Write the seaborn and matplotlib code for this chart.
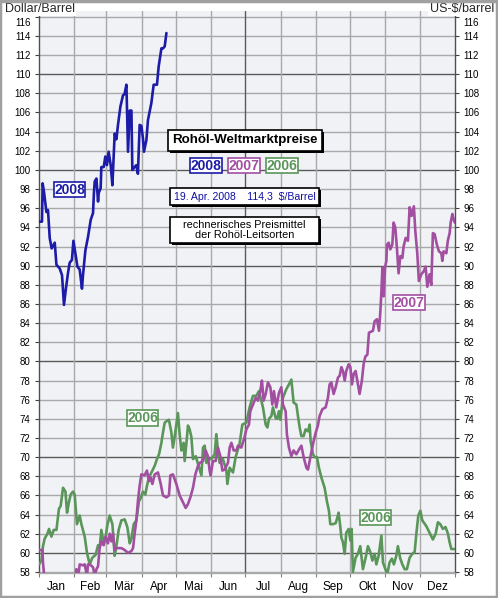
import matplotlib
matplotlib.use("Agg")
import numpy as np
import pandas as pd
import seaborn as sns
import matplotlib.pyplot as plt
from matplotlib.patches import Rectangle
from matplotlib.ticker import FixedLocator, NullFormatter
from matplotlib.transforms import ScaledTranslation

# ---------------- data ----------------
months = ["Jan", "Feb", "Mär", "Apr", "Mai", "Jun", "Jul", "Aug", "Sep", "Okt", "Nov", "Dez"]
month_starts = [0, 31, 59, 90, 120, 151, 181, 212, 243, 273, 304, 334, 365]

day_2008 = [0, 2.6, 3.2, 4.5, 6.5, 7.9, 9.4, 11.1, 13.8, 15.3, 18.2, 20.2, 21.9, 23.4, 25.4, 26.9,
            28.9, 30.2, 31.9, 33.7, 35.7, 37.7, 38.6, 40.7, 43.0, 45.4, 47.4, 48.2, 48.9, 50.4,
            51.8, 52.4, 54.1, 54.7, 56.8, 58.2, 59.6, 61.1, 62.9, 64.4, 66.4, 67.9, 69.3, 71.4,
            73.7, 75.0, 76.7, 78.1, 79.6, 81.1, 81.9, 83.9, 85.4, 86.8, 88.3, 89.8, 91.2, 92.1,
            94.2, 95.6, 98.6, 100.6, 103.5, 105.0, 107.4, 108.8, 110.3, 111.8]
price_2008 = [94.6, 94.6, 98.6, 97.6, 95.6, 95.8, 92.9, 91.8, 92.4, 90.1, 89.7, 89.0, 85.9, 87.4, 89.2, 90.3,
              90.6, 92.6, 91.3, 89.9, 89.6, 87.6, 89.0, 91.6, 93.0, 94.8, 95.5, 97.6, 98.8, 99.1,
              96.7, 97.6, 98.1, 100.3, 100.3, 101.4, 100.5, 101.9, 100.5, 98.4, 103.8, 103.2, 104.7, 106.6,
              107.8, 107.9, 108.9, 101.9, 106.2, 106.2, 100.0, 100.3, 100.5, 99.6, 104.7, 104.6, 103.3, 101.9,
              103.1, 105.2, 107.0, 108.9, 108.9, 110.8, 112.7, 112.7, 112.9, 114.3]

day_2007 = [0, 3.0, 3.5, 5.0, 10, 16, 22, 28, 32.0, 32.8, 34.4, 35.7, 38.6, 40.1, 42.1, 43.0, 44.5, 47.4,
            48.9, 50.4, 51.8, 53.2, 54.7, 56.8, 58.5, 60.5, 62.0, 63.5, 64.9, 66.4, 67.9, 72.3, 75.2,
            78.1, 81.1, 82.5, 83.9, 85.4, 86.8, 88.3, 89.8, 92.7, 94.7, 96.5, 97.7, 99.5, 101.5, 104.4,
            106.8, 108.8, 111.8, 114.0, 115.3, 117.5, 120.5, 123.4, 126.3, 128.7, 130.7, 132.8, 135.1,
            137.2, 139.5, 141.0, 143.9, 146.2, 148.2, 149.7, 150.6, 152.6, 155.0, 157.0, 159.1, 160.9,
            162.9, 165.8, 167.3, 168.8, 170.8, 173.2, 174.6, 177.5, 180.4, 181.9, 184.2, 185.4, 187.7,
            190.1, 192.1, 194.2, 195.6, 197.1, 198.9, 200.9, 203.0, 204.7, 206.1, 208.2, 210.5, 212.6,
            214.0, 216.4, 217.5, 219.3, 221.4, 223.4, 225.8, 228.1, 230.2, 232.2, 234.6, 236.0, 237.5,
            238.9, 241.0, 242.9, 244.7, 246.2, 248.6, 251.5, 253.5, 255.0, 256.5, 258.5, 260.3, 262.3,
            263.8, 265.3, 266.7, 268.2, 269.6, 271.7, 273.2, 274.6, 276.1, 277.8, 279.8, 281.3, 283.3,
            284.8, 286.3, 288.1, 289.5, 293.0, 294.5, 296.5, 298.3, 299.5, 300.4, 301.3, 302.4, 303.6,
            304.8, 305.3, 306.8, 308.2, 310.0, 311.1, 312.6, 314.0, 315.5, 317.0, 318.8, 319.9, 321.7,
            323.7, 325.2, 326.9, 328.9, 330.2, 331.9, 333.3, 335.4, 337.5, 339.2, 340.7, 342.7, 344.2,
            345.6, 347.1, 349.1, 350.9, 353.0, 353.9, 355.0, 357.4, 358.7, 360.3, 361.2, 362.7, 363.9, 364.8]
price_2007 = [60.3, 60.3, 59.0, 57.0, 55.0, 52.5, 52.0, 55.5, 57.6, 58.3, 57.5, 58.8, 58.7, 58.8, 57.6, 58.8, 58.8, 58.5,
              57.6, 58.3, 58.6, 60.5, 61.2, 60.8, 61.7, 61.0, 62.0, 61.2, 62.0, 60.3, 60.5, 60.5, 60.3,
              60.0, 60.2, 60.5, 62.0, 63.4, 65.4, 67.0, 68.2, 68.1, 68.6, 67.5, 67.9, 67.2, 68.2, 68.4,
              67.2, 66.0, 65.8, 66.0, 68.1, 68.2, 67.2, 66.0, 65.3, 64.7, 65.1, 65.8, 66.8,
              68.2, 69.1, 69.4, 69.6, 70.7, 70.1, 68.6, 68.1, 69.6, 69.6, 71.0, 70.1, 68.6,
              68.7, 69.4, 71.0, 71.5, 70.7, 70.7, 71.2, 71.0, 72.1, 72.9, 73.4, 74.8, 75.5,
              76.2, 75.9, 76.9, 78.0, 75.9, 76.6, 77.8, 77.3, 75.5, 76.9, 75.2, 76.7, 77.3,
              75.5, 74.8, 72.4, 71.0, 70.1, 70.7, 70.3, 70.8, 71.2, 70.0, 68.9, 68.7, 69.6,
              70.5, 71.7, 72.6, 73.3, 74.3, 75.0, 75.2, 76.2, 77.6, 77.8, 76.6, 77.3, 78.3,
              78.5, 79.4, 79.0, 78.0, 79.0, 79.7, 79.4, 77.6, 78.7, 79.0, 77.6, 76.6, 78.0,
              79.7, 80.5, 80.7, 83.0, 83.2, 84.2, 84.4, 83.2, 85.2, 87.2, 89.8, 86.8, 89.8,
              90.5, 92.2, 92.4, 91.7, 92.2, 94.5, 94.0, 91.9, 89.2, 91.0, 90.8, 92.0, 92.9,
              92.6, 96.1, 95.2, 96.2, 93.6, 91.3, 88.4, 89.1, 89.4, 89.9, 87.8, 89.1, 88.0,
              93.4, 93.3, 92.2, 91.5, 91.3, 90.5, 91.5, 91.3, 92.6, 93.4, 94.5, 95.4, 94.8, 94.5]

day_2006 = [0, 2.1, 3.5, 5.0, 7.4, 8.8, 10.9, 12.9, 15.3, 17.5, 19.0, 21.1, 23.2, 24.6, 26.1, 27.8, 29.8,
            31.3, 33.3, 35.7, 37.2, 40.1, 42.1, 44.5, 46.8, 49.7, 51.8, 53.2, 54.7, 56.8, 58.5, 60.0,
            62.0, 64.4, 66.4, 67.9, 69.9, 72.3, 75.2, 77.5, 79.6, 81.1, 83.1, 85.4, 87.7, 89.2, 91.2,
            93.3, 94.7, 96.5, 99.5, 101.5, 103.5, 105.3, 107.4, 108.8, 110.3, 112.3, 114.0, 116.1,
            117.5, 119.0, 120.5, 121.9, 123.4, 124.9, 126.9, 127.8, 129.3, 130.7, 132.2, 133.7, 135.1,
            137.5, 139.5, 142.5, 143.9, 145.4, 146.8, 149.1, 151.2, 154.1, 155.6, 157.0, 158.5, 161.4,
            164.4, 165.3, 167.3, 170.2, 172.5, 176.0, 178.4, 181.9, 184.8, 187.7, 190.7, 193.0, 195.1,
            196.5, 198.9, 200.4, 201.8, 203.9, 205.3, 207.6, 209.1, 210.5, 211.8, 214.0, 217.0, 219.3,
            221.4, 223.4, 225.8, 227.2, 228.7, 230.2, 232.2, 233.9, 236.0, 237.5, 238.3, 240.4, 241.8,
            243.9, 245.6, 247.7, 250.6, 252.6, 254.4, 255.6, 257.9, 260.3, 261.8, 262.9, 264.4, 265.3,
            266.7, 268.2, 269.6, 271.7, 273.2, 274.3, 275.4, 277.8, 279.8, 281.9, 284.2, 286.6, 288.6,
            290.7, 292.5, 294.5, 296.0, 298.0, 300.4, 301.8, 303.9, 305.6, 307.6, 309.6, 311.4, 313.5,
            314.9, 317.0, 318.8, 320.8, 322.8, 325.2, 327.5, 329.6, 331.1, 332.8, 334.6, 336.3, 339.8,
            342.7, 345.6, 348.0, 350.0, 352.1, 354.4, 356.7, 358.8, 360.3, 361.8, 364.6]
price_2006 = [58.8, 59.2, 60.7, 61.5, 62.0, 62.5, 61.7, 62.4, 62.4, 64.6, 64.9, 66.8, 66.4, 64.2, 65.2, 66.1, 66.4,
              66.1, 63.0, 63.9, 63.0, 61.7, 60.0, 58.8, 59.5, 59.8, 60.8, 60.5, 62.4, 61.0, 61.7, 62.9,
              63.9, 63.0, 59.7, 60.7, 62.4, 63.4, 63.5, 62.7, 61.0, 61.5, 63.0, 63.4, 65.4, 65.7, 66.4,
              66.1, 67.0, 67.9, 68.6, 69.1, 69.8, 70.3, 71.5, 72.6, 73.6, 73.8, 73.9, 72.6,
              71.0, 72.1, 73.4, 74.6, 72.4, 70.7, 71.5, 69.6, 71.4, 73.3, 72.9, 72.1, 69.8,
              70.1, 69.3, 68.1, 71.0, 71.2, 69.4, 69.8, 69.8, 70.3, 72.4, 70.7, 69.4, 69.8,
              68.6, 67.2, 68.9, 68.4, 70.0, 71.4, 73.4, 73.6, 75.2, 76.4, 76.4, 76.9, 75.9,
              75.2, 73.4, 73.1, 74.0, 74.3, 75.2, 74.1, 74.0, 74.8, 73.9, 76.2, 77.1, 77.6,
              78.1, 75.7, 75.5, 74.3, 73.1, 72.2, 72.2, 72.9, 72.7, 73.4, 71.7, 70.3, 70.0,
              70.0, 68.9, 67.9, 66.8, 65.4, 64.4, 63.0, 63.0, 63.1, 63.7, 64.2, 62.7, 61.6,
              61.1, 59.9, 62.1, 62.5, 61.3, 62.5, 58.0, 59.5, 59.9, 60.7, 58.3, 59.5, 60.7,
              60.1, 59.2, 59.9, 58.8, 59.7, 61.8, 59.0, 58.3, 57.8, 59.0, 59.4, 58.8, 59.7,
              60.7, 59.4, 58.8, 58.3, 58.3, 59.5, 59.9, 60.1, 62.0, 63.9, 64.4, 63.4, 62.8,
              62.1, 61.4, 62.0, 63.2, 63.0, 62.5, 62.7, 62.0, 61.1, 60.4, 60.4]

years = ["2006", "2007", "2008"]
colors = {"2008": "#1c1ca8", "2007": "#a24fa2", "2006": "#5a965a"}

df = pd.concat([
    pd.DataFrame({"day": day_2006, "price": price_2006, "year": "2006"}),
    pd.DataFrame({"day": day_2007, "price": price_2007, "year": "2007"}),
    pd.DataFrame({"day": day_2008, "price": price_2008, "year": "2008"}),
], ignore_index=True)

# ---------------- figure ----------------
sns.set_theme(style="white")
plt.rcParams["font.family"] = ["Liberation Sans", "DejaVu Sans"]

W, H = 498, 598
fig = plt.figure(figsize=(W / 100, H / 100), dpi=100)
fig.patch.set_facecolor("white")
ax = fig.add_axes([39 / W, 25 / H, 416 / W, 562 / H])
ax.set_facecolor("#f1f2f5")

sns.lineplot(data=df, x="day", y="price", hue="year", hue_order=years, palette=colors,
             estimator=None, sort=False, linewidth=1.9, legend=False, ax=ax, zorder=3)

ax.set_xlim(0, 365)
ax.set_ylim(57.9, 116.6)
ax.set_xlabel("")
ax.set_ylabel("")

# y ticks / grid
yt = list(range(58, 117, 2))
ax.yaxis.set_major_locator(FixedLocator(yt))
ax.set_yticklabels([str(v) for v in yt])
ax.tick_params(axis="y", which="major", left=True, right=True, labelleft=True, labelright=True,
               length=3, width=0.8, color="#404040", labelsize=7, pad=3, labelcolor="black")
for y in yt:
    dark = (y % 10 == 0)
    ax.axhline(y, color="#5a5a5a" if dark else "#a9a9a9", lw=1.0, zorder=1)

# shift the top tick labels slightly down (as in the original)
fig.canvas.draw()
top_tick = ax.yaxis.get_major_ticks()[-1]
shift = ScaledTranslation(0, -5 / 100, fig.dpi_scale_trans)
for lbl in (top_tick.label1, top_tick.label2):
    lbl.set_transform(lbl.get_transform() + shift)

# x ticks / grid
ax.xaxis.set_major_locator(FixedLocator(month_starts))
ax.xaxis.set_major_formatter(NullFormatter())
mids = [(month_starts[i] + month_starts[i + 1]) / 2 for i in range(12)]
ax.xaxis.set_minor_locator(FixedLocator(mids))
ax.set_xticklabels(months, minor=True)
ax.tick_params(axis="x", which="major", bottom=True, length=3, width=0.8, color="#808080")
ax.tick_params(axis="x", which="minor", bottom=True, length=0, labelsize=8.5, pad=6, labelcolor="black")
for d in month_starts[1:-1]:
    ax.axvline(d, color="#5a5a5a" if d == 181 else "#a9a9a9", lw=1.0, zorder=1)

for side in ["left", "right"]:
    ax.spines[side].set_color("#505050")
    ax.spines[side].set_linewidth(1.0)
ax.spines["top"].set_visible(False)
ax.spines["bottom"].set_color("#a9a9a9")
ax.spines["bottom"].set_linewidth(1.0)


# ---------------- annotations ----------------
def fx(x):
    return x / W


def fy(y):
    return 1 - y / H


def box(x0, y0, x1, y1, ec, lw=1.0, shadow=0):
    if shadow:
        fig.add_artist(Rectangle((fx(x0 + shadow), fy(y1 + shadow)), (x1 - x0) / W, (y1 - y0) / H,
                                 transform=fig.transFigure, fc="black", ec="black", lw=0, zorder=10))
    fig.add_artist(Rectangle((fx(x0), fy(y1)), (x1 - x0) / W, (y1 - y0) / H,
                             transform=fig.transFigure, fc="white", ec=ec, lw=lw, zorder=11))


def label(x0, y0, x1, y1, text, color, size, weight="normal", ec=None, lw=1.0, shadow=0, ls=1.0):
    box(x0, y0, x1, y1, ec if ec else color, lw, shadow)
    fig.text(fx((x0 + x1) / 2), fy((y0 + y1) / 2), text, color=color, fontsize=size,
             fontweight=weight, ha="center", va="center", zorder=12, linespacing=ls)


# axis unit labels
fig.text(fx(5), fy(9), "Dollar/Barrel", fontsize=9, ha="left", va="center", zorder=12,
         bbox=dict(fc="white", ec="none", pad=1.0))
fig.text(fx(494), fy(9), "US-$/barrel", fontsize=9, ha="right", va="center", zorder=12,
         bbox=dict(fc="white", ec="none", pad=1.0))

# title block
label(168, 130, 322, 151, "Rohöl-Weltmarktpreise", "black", 9.6, "bold", ec="black", lw=1.2, shadow=2)
label(190, 158, 222, 173, "2008", colors["2008"], 10, "bold", lw=1.2)
label(228, 158, 260, 173, "2007", colors["2007"], 10, "bold", lw=1.2)
label(266, 158, 298, 173, "2006", colors["2006"], 10, "bold", lw=1.2)
label(170, 188, 319, 205, "19. Apr. 2008    114,3  $/Barrel", "#1010a0", 7.6, ec="black", lw=1.2, shadow=2)
label(170, 217, 319, 243, "rechnerisches Preismittel\nder Rohöl-Leitsorten", "black", 7.8,
      ec="black", lw=1.2, shadow=2, ls=1.05)

# series labels on the chart
label(54, 182, 85, 197, "2008", colors["2008"], 10, "bold", lw=1.2)
label(127, 410, 158, 426, "2006", colors["2006"], 10, "bold", lw=1.2)
label(360, 510, 391, 525, "2006", colors["2006"], 10, "bold", lw=1.2)
label(393, 295, 425, 310, "2007", colors["2007"], 10, "bold", lw=1.2)

# outer frame
fig.add_artist(Rectangle((0.001, 0.001), 0.997, 0.997, transform=fig.transFigure,
                         fc="none", ec="#a0a0a0", lw=2.5, zorder=20))

fig.savefig("out.png", dpi=100)
